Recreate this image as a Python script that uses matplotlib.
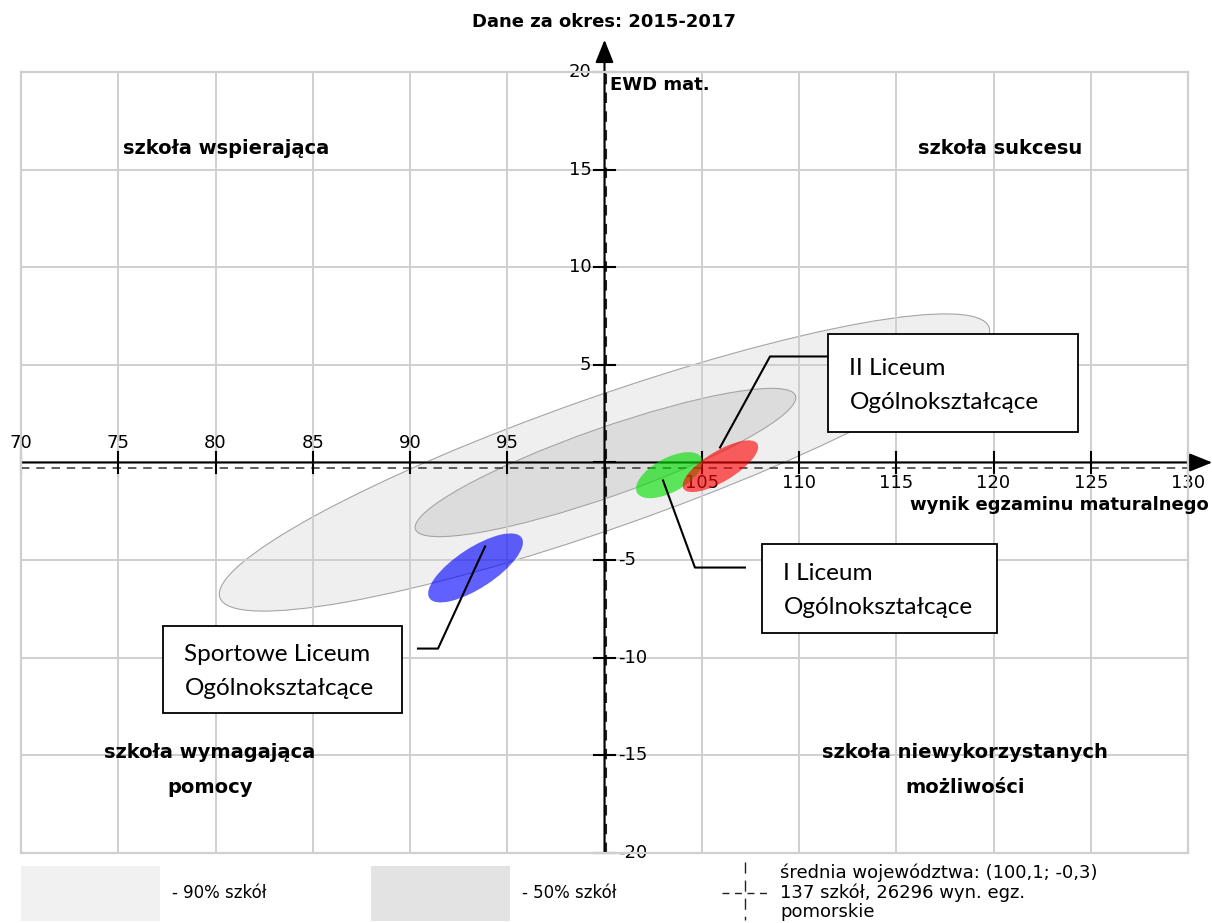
import matplotlib
matplotlib.use("Agg")
import matplotlib.pyplot as plt
from matplotlib.patches import Ellipse, Rectangle
from matplotlib.lines import Line2D
import matplotlib.transforms as mtransforms

# ---------------- data ----------------
title = "Dane za okres: 2015-2017"
x_label = "wynik egzaminu maturalnego"
y_label = "EWD mat."
x_ticks = [70, 75, 80, 85, 90, 95, 100, 105, 110, 115, 120, 125, 130]
y_ticks = [-20, -15, -10, -5, 0, 5, 10, 15, 20]
mean_x = 100.1
mean_y = -0.3

band_labels = ["- 90% szkół", "- 50% szkół"]
band_cx = [100.0, 100.05]
band_cy = [0.0, 0.0]
band_w = [41.9, 20.7]
band_h = [6.7, 3.5]
band_angle = [19.3, 19.3]
band_colors = ["#efefef", "#dcdcdc"]
band_legend_colors = ["#f1f1f1", "#e3e3e3"]

school_names = ["Sportowe Liceum\nOgólnokształcące",
                "I Liceum\nOgólnokształcące",
                "II Liceum\nOgólnokształcące"]
school_x = [93.37, 103.33, 105.96]
school_y = [-5.40, -0.65, -0.19]
school_w = [5.66, 3.77, 4.44]
school_h = [2.05, 1.74, 1.55]
school_angle = [33.1, 28.4, 31.1]
school_colors = ["#0000ff", "#00e000", "#ff0000"]

quadrant_labels = ["szkoła wspierająca", "szkoła sukcesu",
                   "szkoła wymagająca\npomocy", "szkoła niewykorzystanych\nmożliwości"]
mean_legend = ["średnia województwa: (100,1; -0,3)",
               "137 szkół, 26296 wyn. egz.",
               "pomorskie"]

# ---------------- figure ----------------
W, H = 1212, 923
fig = plt.figure(figsize=(W / 100, H / 100), dpi=100)
fig.patch.set_facecolor("white")


def fx(px):
    return px / W


def fy(py):
    return 1 - py / H


ax = fig.add_axes([fx(21), fy(853), (1188 - 21) / W, (853 - 72) / H])
ax.set_xlim(70, 130)
ax.set_ylim(-20, 20)
ax.set_xticks(x_ticks)
ax.set_yticks(y_ticks)
ax.tick_params(length=0, labelbottom=False, labelleft=False)
ax.set_axisbelow(True)
ax.grid(True, color="#cfcfcf", lw=1.4)
for s in ax.spines.values():
    s.set_color("#cfcfcf")
    s.set_linewidth(1.6)

# tolerance bands
for cx, cy, w, h, a, c in zip(band_cx, band_cy, band_w, band_h, band_angle, band_colors):
    ax.add_patch(Ellipse((cx, cy), w, h, angle=a, facecolor=c,
                         edgecolor="#a5a5a5", lw=0.8, zorder=0.3))

# mean lines
ax.axvline(mean_x, color="#222222", lw=1.5, ls=(0, (5, 4)), zorder=2)
ax.axhline(mean_y, color="#333333", lw=1.1, ls=(0, (5.5, 4.5)), zorder=2)

# axes with arrows
arrow_kw = dict(arrowstyle="-|>,head_length=0.7,head_width=0.28", color="k",
                lw=1.5, shrinkA=0, shrinkB=0, mutation_scale=20)
ax.annotate("", xy=(131.25, 0), xytext=(x_ticks[0], 0), arrowprops=arrow_kw,
            annotation_clip=False, zorder=2.5)
ax.annotate("", xy=(100, 21.65), xytext=(100, y_ticks[0]), arrowprops=arrow_kw,
            annotation_clip=False, zorder=2.5)

# tick marks and labels
tick_kw = dict(fontsize=13, family="DejaVu Sans", zorder=2.2)
above = mtransforms.offset_copy(ax.transData, fig=fig, x=0, y=19, units="dots")
below = mtransforms.offset_copy(ax.transData, fig=fig, x=0, y=-21, units="dots")
left = mtransforms.offset_copy(ax.transData, fig=fig, x=-13, y=0, units="dots")
right = mtransforms.offset_copy(ax.transData, fig=fig, x=14, y=0, units="dots")
for xv in x_ticks:
    ax.plot([xv, xv], [-0.52, 0.52], color="k", lw=1.5, zorder=2.5, clip_on=False)
    if xv == 100:
        continue
    tr = above if xv < 100 else below
    ax.text(xv, 0, str(xv), transform=tr, ha="center", va="center", **tick_kw)
for yv in y_ticks:
    ax.plot([99.48, 100.52], [yv, yv], color="k", lw=1.5, zorder=2.5, clip_on=False)
    if yv == 0:
        continue
    if yv > 0:
        ax.text(100, yv, str(yv), transform=left, ha="right", va="center", **tick_kw)
    else:
        ax.text(100, yv, str(yv), transform=right, ha="left", va="center", **tick_kw)

# school ellipses
for x, y, w, h, a, c in zip(school_x, school_y, school_w, school_h, school_angle, school_colors):
    ax.add_patch(Ellipse((x, y), w, h, angle=a, facecolor=c, alpha=0.62,
                         edgecolor="none", zorder=3))

# annotation boxes with leader lines
boxes = [  # (x0, x1, y0, y1) box, leader path
    ((77.30, 89.59, -12.81, -8.35), [(90.41, -9.53), (91.44, -9.53), (93.86, -4.30)]),
    ((108.10, 120.18, -8.71, -4.15), [(107.22, -5.38), (104.65, -5.38), (103.01, -0.92)]),
    ((111.49, 124.35, 1.54, 6.56), [(111.59, 5.43), (108.51, 5.43), (105.94, 0.77)]),
]
for name, (bx, path) in zip(school_names, boxes):
    x0, x1, y0, y1 = bx
    ax.add_patch(Rectangle((x0, y0), x1 - x0, y1 - y0, facecolor="white",
                           edgecolor="black", lw=1.3, zorder=5))
    ax.plot([p[0] for p in path], [p[1] for p in path], color="black", lw=1.5, zorder=4)
    ax.text(x0 + 1.1, (y0 + y1) / 2 - 0.12, name, family="Lato", fontsize=17.5,
            ha="left", va="center", linespacing=1.75, zorder=6)

# quadrant labels
q_kw = dict(fontsize=14, fontweight="bold", family="DejaVu Sans", ha="center",
            va="center", linespacing=2.05)
ax.text(80.54, 16.09, quadrant_labels[0], **q_kw)
ax.text(120.33, 16.09, quadrant_labels[1], **q_kw)
ax.text(79.72, -15.73, quadrant_labels[2], **q_kw)
ax.text(118.53, -15.73, quadrant_labels[3], **q_kw)

# titles / axis labels
fig.text(fx(604), fy(22), title, ha="center", va="center", fontsize=13, fontweight="bold")
fig.text(fx(610), fy(85), y_label, ha="left", va="center", fontsize=13, fontweight="bold")
fig.text(fx(1209), fy(505), x_label, ha="right", va="center", fontsize=13, fontweight="bold")

# legend
for i, (lab, c) in enumerate(zip(band_labels, band_legend_colors)):
    x0 = 21 + i * 350
    fig.add_artist(Rectangle((fx(x0), fy(921)), 139 / W, 55 / H, transform=fig.transFigure,
                             facecolor=c, edgecolor="none"))
    fig.text(fx(x0 + 151), fy(893), lab, ha="left", va="center", fontsize=12)

fig.add_artist(Line2D([fx(722), fx(768)], [fy(893), fy(893)], transform=fig.transFigure,
                      color="#222222", lw=1.0, ls=(0, (5, 4))))
fig.add_artist(Line2D([fx(745), fx(745)], [fy(862), fy(920)], transform=fig.transFigure,
                      color="#222222", lw=1.0, ls=(0, (8, 5))))
for i, t in enumerate(mean_legend):
    fig.text(fx(780), fy(873 + 19.5 * i), t, ha="left", va="center", fontsize=13)

fig.savefig("out.png", dpi=100)
